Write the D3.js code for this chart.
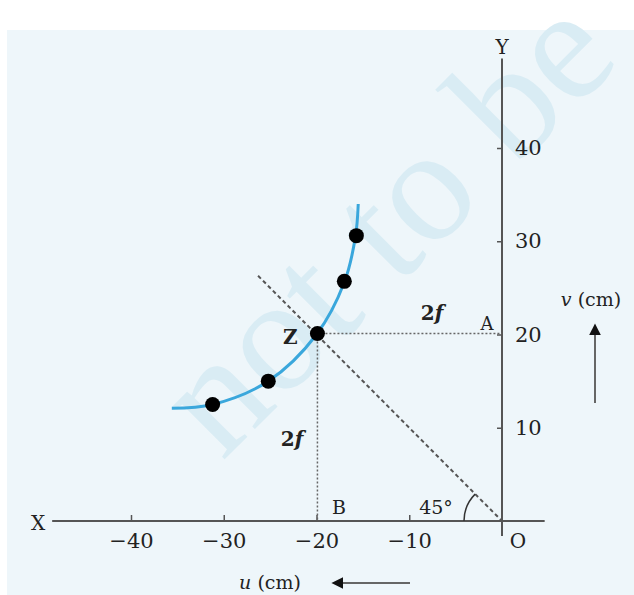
<!DOCTYPE html>
<html>
<head>
<meta charset="utf-8">
<script src="https://cdn.jsdelivr.net/npm/d3@7"></script>
<style>
  body { margin: 0; background: #fff; }
  text { font-family: "DejaVu Serif", "Liberation Serif", serif; fill: #222; }
</style>
</head>
<body>
<div id="canvas"></div>
<script>
// values (u, v in cm)
var xTicks = [-40, -30, -20, -10]
var yTicks = [10, 20, 30, 40]
var pointU = [-31.2, -25.2, -19.9, -17.0, -15.7]
var pointV = [12.5, 15.0, 20.1, 25.7, 30.6]
var curveU = [-35.6, -31.2, -25.2, -20, -17.0, -15.8, -15.5]
var curveV = [12.1, 12.5, 15.0, 20, 25.6, 30.5, 34]
var diagFrom = [-26.3, 26.3]

var width = 634
var height = 595

var svg = d3.select("#canvas")
    .append("svg")
    .attr("width", width)
    .attr("height", height)

// light blue panel
svg.append("rect")
    .attr("x", 7).attr("y", 30)
    .attr("width", width - 7).attr("height", height - 30)
    .attr("fill", "#eef6fa")

// watermark
svg.append("text")
    .attr("transform", "translate(222,462) rotate(-45)")
    .style("font-size", "162px")
    .style("font-family", "Liberation Serif, serif")
    .style("fill", "#d9ecf4")
    .text("not to be")

var xScale = d3.scaleLinear().domain([-40, 0]).range([131, 502])
var yScale = d3.scaleLinear().domain([0, 40]).range([521, 148])

// axis lines
svg.append("line")
    .attr("x1", xScale(-48.5)).attr("x2", xScale(4.6))
    .attr("y1", yScale(0)).attr("y2", yScale(0))
    .attr("stroke", "#555").attr("stroke-width", 2)
svg.append("line")
    .attr("x1", xScale(0)).attr("x2", xScale(0))
    .attr("y1", yScale(49.6)).attr("y2", yScale(-1.6))
    .attr("stroke", "#555").attr("stroke-width", 2)

var xAxis = svg.append("g")
    .attr("transform", `translate(0,${yScale(0)})`)
    .call(d3.axisBottom(xScale)
        .tickValues(xTicks)
        .tickSizeInner(-6)
        .tickSizeOuter(0)
        .tickPadding(12))
xAxis.select(".domain").remove()

var yAxis = svg.append("g")
    .attr("transform", `translate(${xScale(0)},0)`)
    .call(d3.axisRight(yScale)
        .tickValues(yTicks)
        .tickSizeInner(-5)
        .tickSizeOuter(0)
        .tickPadding(13))
yAxis.select(".domain").remove()

svg.selectAll(".tick line").attr("stroke", "#555").attr("stroke-width", 1.5)
svg.selectAll(".tick text")
    .style("font-size", "21px")
    .style("font-family", "DejaVu Serif, serif")
    .attr("fill", "#222")

// dotted guide lines through Z
var zu = pointU[2], zv = pointV[2]
svg.append("line")
    .attr("x1", xScale(zu)).attr("y1", yScale(zv))
    .attr("x2", xScale(0)).attr("y2", yScale(zv))
    .attr("stroke", "#666").attr("stroke-width", 1.5)
    .attr("stroke-dasharray", "2,2")
svg.append("line")
    .attr("x1", xScale(zu)).attr("y1", yScale(zv))
    .attr("x2", xScale(zu)).attr("y2", yScale(0))
    .attr("stroke", "#666").attr("stroke-width", 1.5)
    .attr("stroke-dasharray", "2,2")

// 45 degree dashed line
svg.append("line")
    .attr("x1", xScale(diagFrom[0])).attr("y1", yScale(diagFrom[1]))
    .attr("x2", xScale(0)).attr("y2", yScale(0))
    .attr("stroke", "#555").attr("stroke-width", 2)
    .attr("stroke-dasharray", "4,3")

// 45 degree arc
var arc = d3.arc()
    .innerRadius(38).outerRadius(38)
    .startAngle(-Math.PI / 2).endAngle(-Math.PI / 4)
svg.append("path")
    .attr("transform", `translate(${xScale(0)},${yScale(0)})`)
    .attr("d", arc())
    .attr("fill", "none")
    .attr("stroke", "#333").attr("stroke-width", 1.5)

// fitted curve
var curveData = curveU.map(function (u, i) { return [u, curveV[i]] })
svg.append("path")
    .datum(curveData)
    .attr("d", d3.line()
        .x(function (d) { return xScale(d[0]) })
        .y(function (d) { return yScale(d[1]) })
        .curve(d3.curveCatmullRom))
    .attr("fill", "none")
    .attr("stroke", "#3aa7dc")
    .attr("stroke-width", 3)

// measured points
var points = pointU.map(function (u, i) { return [u, pointV[i]] })
svg.selectAll(".pt")
    .data(points)
    .enter()
    .append("circle")
    .attr("class", "pt")
    .attr("cx", function (d) { return xScale(d[0]) })
    .attr("cy", function (d) { return yScale(d[1]) })
    .attr("r", 7.5)
    .attr("fill", "#000")

// labels
function label(x, y, txt, size, anchor) {
    return svg.append("text")
        .attr("x", x).attr("y", y)
        .attr("text-anchor", anchor || "middle")
        .style("font-size", (size || 20) + "px")
        .text(txt)
}
function twoF(x, y) {
    var t = svg.append("text").attr("x", x).attr("y", y)
        .attr("text-anchor", "middle").style("font-size", "20px")
        .style("font-weight", "bold")
    t.append("tspan").text("2")
    t.append("tspan").style("font-style", "italic").text("f")
}
label(xScale(0), 54, "Y", 20)
label(38, 530, "X", 20)
label(518, 548, "O", 20)
label(xScale(zu) - 27, yScale(zv) + 10, "Z", 20).style("font-weight", "bold")
label(487, 330, "A", 18)
label(339, 514, "B", 19)
label(436, 514, "45°", 19)
twoF(432, 320)
twoF(292, 446)

var vLab = svg.append("text").attr("x", 591).attr("y", 306)
    .attr("text-anchor", "middle").style("font-size", "19px")
vLab.append("tspan").style("font-style", "italic").text("v")
vLab.append("tspan").text(" (cm)")

var uLab = svg.append("text").attr("x", 270).attr("y", 589)
    .attr("text-anchor", "middle").style("font-size", "19px")
uLab.append("tspan").style("font-style", "italic").text("u")
uLab.append("tspan").text(" (cm)")

// direction arrows
svg.append("defs").append("marker")
    .attr("id", "head")
    .attr("viewBox", "0 0 10 10")
    .attr("refX", 2).attr("refY", 5)
    .attr("markerWidth", 6).attr("markerHeight", 6)
    .attr("orient", "auto")
    .append("path")
    .attr("d", "M0,0 L10,5 L0,10 z")
    .attr("fill", "#111")

svg.append("line")
    .attr("x1", 595).attr("y1", 403)
    .attr("x2", 595).attr("y2", 333)
    .attr("stroke", "#666").attr("stroke-width", 2)
    .attr("marker-end", "url(#head)")
svg.append("line")
    .attr("x1", 410).attr("y1", 583)
    .attr("x2", 341).attr("y2", 583)
    .attr("stroke", "#666").attr("stroke-width", 2)
    .attr("marker-end", "url(#head)")
</script>
</body>
</html>
